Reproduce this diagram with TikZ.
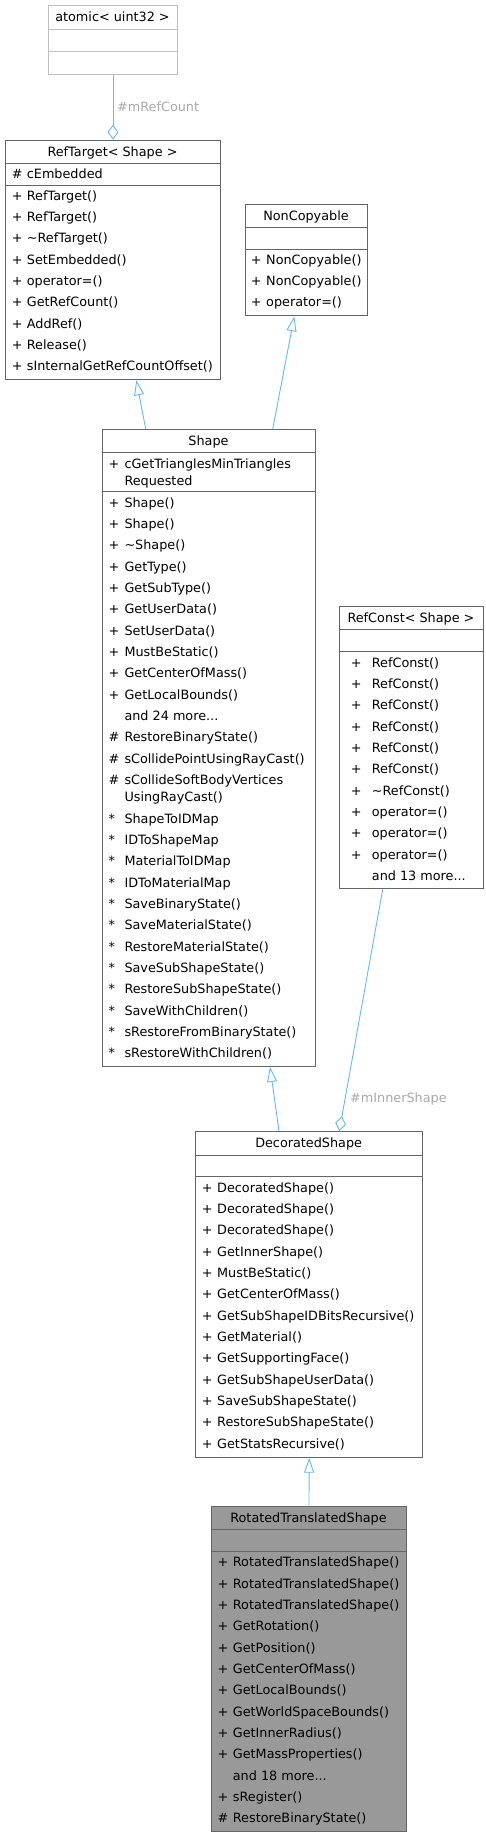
\documentclass[tikz,border=0pt]{standalone}
\usepackage{fontspec}
\setmainfont{DejaVu Sans}
\usetikzlibrary{arrows.meta,calc}
\definecolor{edgec}{HTML}{63B8FF}
\definecolor{boxc}{HTML}{666666}
\definecolor{extc}{HTML}{BFBFBF}
\definecolor{lblc}{HTML}{A8A8A8}
\definecolor{rtsfill}{HTML}{999999}
\newcommand\fsz{\fontsize{12.8}{15}\selectfont}
\newcommand\threedots{...}
\newcommand\mrows[5]{%
  \foreach \s/\t [count=\i from 0] in {#5} {
    \node[txt] (#1s\i) at (#2, #4+\i*21.33) {\s};
    \node[txt] (#1t\i) at (#3, #4+\i*21.33) {\t};
  }}
\begin{document}
\begin{tikzpicture}[x=1pt,y=-1pt,
  txt/.style={anchor=west, inner sep=0pt, text height=9pt, text depth=0pt, font=\fsz, text=black},
  ttl/.style={anchor=center, inner sep=0pt, text height=9pt, text depth=0pt, font=\fsz, text=black},
  cls/.style={draw=boxc, line width=1pt, anchor=north west, inner sep=0pt, fill=white},
  ext/.style={draw=extc, line width=1pt, anchor=north west, inner sep=0pt, fill=white},
  divl/.style={draw=boxc, line width=1pt},
  dive/.style={draw=extc, line width=1pt},
  inh/.style={draw=edgec, line width=0.9pt, -{Triangle[fill=white,length=15pt,width=10pt]}},
  agg/.style={draw=edgec, line width=0.9pt, -{Diamond[fill=white,length=15pt,width=11pt]}},
  lbl/.style={anchor=west, inner sep=0pt, text height=9pt, text depth=0pt, font=\fsz, text=lblc}
]
\useasboundingbox (0,0) rectangle (486,1837);

% atomic< uint32 >
\node[ext, minimum width=129pt, minimum height=69pt] (atomic) at (48,5) {};
\node[ttl] (atomicT) at (112.5,17) {atomic< uint32 >};
\draw[dive] (atomic.west |- 0,29) -- (atomic.east |- 0,29);
\draw[dive] (atomic.west |- 0,51) -- (atomic.east |- 0,51);

% RefTarget< Shape >
\node[cls, minimum width=215pt, minimum height=239.6pt] (reft) at (5,139.7) {};
\node[ttl] (reftT) at (112.5,151.7) {RefTarget< Shape >};
\draw[divl] (reft.west |- 0,163.7) -- (reft.east |- 0,163.7);
\draw[divl] (reft.west |- 0,185) -- (reft.east |- 0,185);
\mrows{rta}{11.7}{26.7}{174.3}{\#/cEmbedded}
\mrows{rtm}{11.7}{26.7}{195.7}{+/RefTarget(), +/RefTarget(), +/\textasciitilde RefTarget(), +/SetEmbedded(), +/operator=(), +/GetRefCount(), +/AddRef(), +/Release(), +/sInternalGetRefCountOffset()}

% NonCopyable
\node[cls, minimum width=122.6pt, minimum height=111.6pt] (nonc) at (244.7,203.7) {};
\node[ttl] (noncT) at (306,215.7) {NonCopyable};
\draw[divl] (nonc.west |- 0,227.7) -- (nonc.east |- 0,227.7);
\draw[divl] (nonc.west |- 0,249) -- (nonc.east |- 0,249);
\mrows{ncm}{250.7}{266}{259.7}{+/NonCopyable(), +/NonCopyable(), +/operator=()}

% Shape
\node[cls, minimum width=212.4pt, minimum height=637pt] (shape) at (102.3,429) {};
\node[ttl] (shapeT) at (208.5,440.8) {Shape};
\draw[divl] (shape.west |- 0,452.7) -- (shape.east |- 0,452.7);
\draw[divl] (shape.west |- 0,491.3) -- (shape.east |- 0,491.3);
\node[txt] (sha0) at (108.3,463.7) {+};
\node[txt] (sha1) at (124.3,463.7) {cGetTrianglesMinTriangles};
\node[txt] (sha2) at (124.3,481) {Requested};
\mrows{shm}{108.3}{124.3}{502.7}{+/Shape(), +/Shape(), +/\textasciitilde Shape(), +/GetType(), +/GetSubType(), +/GetUserData(), +/SetUserData(), +/MustBeStatic(), +/GetCenterOfMass(), +/GetLocalBounds(), {}/and 24 more\threedots, \#/RestoreBinaryState(), \#/sCollidePointUsingRayCast()}
\node[txt] (shx0) at (108.3,780) {\#};
\node[txt] (shx1) at (124.3,780) {sCollideSoftBodyVertices};
\node[txt] (shx2) at (124.3,797.3) {UsingRayCast()};
\mrows{shr}{108.3}{124.3}{818.7}{*/ShapeToIDMap, */IDToShapeMap, */MaterialToIDMap, */IDToMaterialMap, */SaveBinaryState(), */SaveMaterialState(), */RestoreMaterialState(), */SaveSubShapeState(), */RestoreSubShapeState(), */SaveWithChildren(), */sRestoreFromBinaryState(), */sRestoreWithChildren()}

% RefConst< Shape >
\node[cls, minimum width=143.4pt, minimum height=282.3pt] (refc) at (339.3,606) {};
\node[ttl] (refcT) at (411,617.7) {RefConst< Shape >};
\draw[divl] (refc.west |- 0,629.3) -- (refc.east |- 0,629.3);
\draw[divl] (refc.west |- 0,651.3) -- (refc.east |- 0,651.3);
\mrows{rcm}{350.7}{371.7}{662.7}{+/RefConst(), +/RefConst(), +/RefConst(), +/RefConst(), +/RefConst(), +/RefConst(), +/\textasciitilde RefConst(), +/operator=(), +/operator=(), +/operator=(), {}/and 13 more\threedots}

% DecoratedShape
\node[cls, minimum width=226.7pt, minimum height=325.7pt] (decs) at (195.3,1131) {};
\node[ttl] (decsT) at (308.65,1143) {DecoratedShape};
\draw[divl] (decs.west |- 0,1155.3) -- (decs.east |- 0,1155.3);
\draw[divl] (decs.west |- 0,1176.7) -- (decs.east |- 0,1176.7);
\mrows{dsm}{201.7}{217}{1187.7}{+/DecoratedShape(), +/DecoratedShape(), +/DecoratedShape(), +/GetInnerShape(), +/MustBeStatic(), +/GetCenterOfMass(), +/GetSubShapeIDBitsRecursive(), +/GetMaterial(), +/GetSupportingFace(), +/GetSubShapeUserData(), +/SaveSubShapeState(), +/RestoreSubShapeState(), +/GetStatsRecursive()}

% RotatedTranslatedShape
\node[cls, fill=rtsfill, minimum width=195pt, minimum height=325.3pt] (rts) at (211,1505.7) {};
\node[ttl] (rtsT) at (308.5,1517.7) {RotatedTranslatedShape};
\draw[divl] (rts.west |- 0,1529.7) -- (rts.east |- 0,1529.7);
\draw[divl] (rts.west |- 0,1551) -- (rts.east |- 0,1551);
\mrows{rsm}{217.3}{232.7}{1562.3}{+/RotatedTranslatedShape(), +/RotatedTranslatedShape(), +/RotatedTranslatedShape(), +/GetRotation(), +/GetPosition(), +/GetCenterOfMass(), +/GetLocalBounds(), +/GetWorldSpaceBounds(), +/GetInnerRadius(), +/GetMassProperties(), {}/and 18 more\threedots, +/sRegister(), \#/RestoreBinaryState()}

% connectors
\draw[agg] (atomic.south) -- (reft.north);
\node[lbl] (lblRef) at (117,107) {\#mRefCount};

\coordinate (e1a) at ($(shape.north west)+(43.4,0)$);
\coordinate (e1b) at ($(reft.south west)+(131.3,0)$);
\draw[inh] (e1a) -- (e1b);

\coordinate (e2a) at ($(shape.north west)+(170.4,0)$);
\coordinate (e2b) at ($(nonc.south west)+(49.6,0)$);
\draw[inh] (e2a) -- (e2b);

\coordinate (e3a) at ($(decs.north west)+(83.7,0)$);
\coordinate (e3b) at ($(shape.south west)+(167.7,0)$);
\draw[inh] (e3a) -- (e3b);

\coordinate (e4a) at ($(refc.south west)+(43.4,0)$);
\coordinate (e4b) at ($(decs.north west)+(144,0)$);
\draw[agg] (e4a) -- (e4b);
\node[lbl] (lblInner) at (350,1098) {\#mInnerShape};

\draw[inh] (rts.north) -- (decs.south);
\end{tikzpicture}
\end{document}
